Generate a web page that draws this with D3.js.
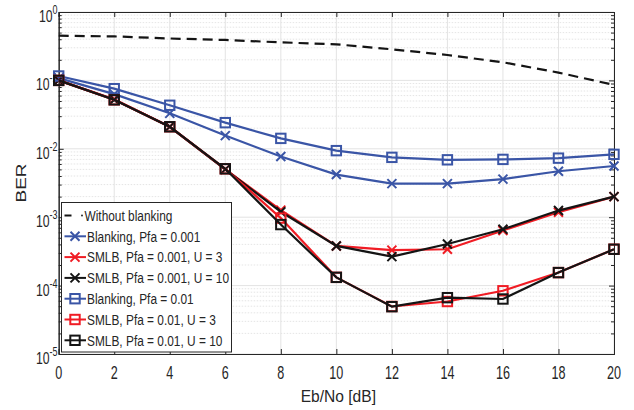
<!DOCTYPE html>
<html><head><meta charset="utf-8">
<script src="https://cdn.jsdelivr.net/npm/d3@7"></script>
<style>body{margin:0;background:#fff}svg{display:block}text{font-family:"Liberation Sans",Arial,sans-serif;fill:#262626}</style>
</head><body><svg id="c" width="634" height="410"></svg>
<script>
const ebno = [0,2,4,6,8,10,12,14,16,18,20];
const withoutBlanking = [0.45,0.44,0.41,0.39,0.36,0.337,0.285,0.235,0.184,0.13,0.086];
const blank001 = [0.108,0.063,0.033,0.0156,0.0077,0.0042,0.0031,0.0031,0.0036,0.0047,0.0056];
const smlb001U3 = [0.1,0.053,0.021,0.005,0.00127,0.00038,0.00033,0.00034,0.00064,0.00118,0.002];
const smlb001U10 = [0.1,0.052,0.021,0.005,0.0012,0.00038,0.000265,0.000405,0.000665,0.00125,0.002];
const blank01 = [0.116,0.0757,0.0433,0.0241,0.0142,0.0094,0.0075,0.0069,0.0070,0.0073,0.0083];
const smlb01U3 = [0.1,0.052,0.021,0.0051,0.00097,0.000132,0.0000495,0.0000585,0.000084,0.000155,0.00034];
const smlb01U10 = [0.1,0.052,0.021,0.0051,0.00078,0.000132,0.0000492,0.0000666,0.0000637,0.000155,0.00034];
const xTicks = [0,2,4,6,8,10,12,14,16,18,20];
const yExps = [0,-1,-2,-3,-4,-5];
const legendLabels = ["Without blanking","Blanking, Pfa = 0.001","SMLB, Pfa = 0.001, U = 3","SMLB, Pfa = 0.001, U = 10","Blanking, Pfa = 0.01","SMLB, Pfa = 0.01, U = 3","SMLB, Pfa = 0.01, U = 10"];

const BLUE="#3a55a6", RED="#f01c24", BLACK="#141414";
const series = [
  {v:withoutBlanking, c:BLACK, m:null, dash:"10,6"},
  {v:blank001, c:BLUE, m:"x"},
  {v:smlb001U3, c:RED, m:"x"},
  {v:smlb001U10, c:BLACK, m:"x"},
  {v:blank01, c:BLUE, m:"s"},
  {v:smlb01U3, c:RED, m:"s"},
  {v:smlb01U10, c:BLACK, m:"s"}
];

const svg = d3.select("#c");
const L=58.7, R=614, T=12, B=354;
const x = d3.scaleLinear().domain([0,20]).range([L,R]);
const y = d3.scaleLog().domain([1e-5,1]).range([B,T]);

function ntext(parent, px, py, size, anchor, sx, rot){
  return parent.append("text")
    .attr("transform",`translate(${px},${py}) scale(${sx},1)${rot?` rotate(${rot})`:""}`)
    .attr("text-anchor",anchor||"start").attr("font-size",size);
}

const g = svg.append("g");
const minor=[];
for(let e=-5;e<0;e++) for(let k=2;k<=9;k++) minor.push(k*Math.pow(10,e));
g.selectAll(".mg").data(minor).enter().append("line")
 .attr("x1",L).attr("x2",R).attr("y1",d=>y(d)).attr("y2",d=>y(d))
 .attr("stroke","#dedede").attr("stroke-width",0.8).attr("stroke-dasharray","1.5,1.5");
g.selectAll(".gy").data(yExps).enter().append("line")
 .attr("x1",L).attr("x2",R).attr("y1",d=>y(Math.pow(10,d))).attr("y2",d=>y(Math.pow(10,d)))
 .attr("stroke","#e3e3e3").attr("stroke-width",1);
g.selectAll(".gx").data(xTicks).enter().append("line")
 .attr("y1",T).attr("y2",B).attr("x1",d=>x(d)).attr("x2",d=>x(d))
 .attr("stroke","#e3e3e3").attr("stroke-width",1);

const ax = d3.axisBottom(x).tickValues(xTicks).tickSize(-5).tickFormat("");
const axT = d3.axisTop(x).tickValues(xTicks).tickSize(-5).tickFormat("");
const ay = d3.axisLeft(y).tickValues(yExps.map(e=>Math.pow(10,e))).tickSize(-5).tickFormat("");
const ayR = d3.axisRight(y).tickValues(yExps.map(e=>Math.pow(10,e))).tickSize(-5).tickFormat("");
const aym = d3.axisLeft(y).tickValues(minor).tickSize(-3).tickFormat("");
const aymR = d3.axisRight(y).tickValues(minor).tickSize(-3).tickFormat("");
function st(sel){sel.selectAll("path,line").attr("stroke","#262626").attr("stroke-width",1);}
g.append("g").attr("transform",`translate(0,${B})`).call(ax).call(st);
g.append("g").attr("transform",`translate(0,${T})`).call(axT).call(st);
g.append("g").attr("transform",`translate(${L},0)`).call(ay).call(st);
g.append("g").attr("transform",`translate(${R},0)`).call(ayR).call(st);
g.append("g").attr("transform",`translate(${L},0)`).call(aym).call(st);
g.append("g").attr("transform",`translate(${R},0)`).call(aymR).call(st);

xTicks.forEach(d=>ntext(g,x(d),379.3,18,"middle",0.7).text(d));
yExps.forEach(e=>{
  const t=ntext(g,57.5,y(Math.pow(10,e))+10,17,"end",0.72);
  t.append("tspan").text("10");
  t.append("tspan").attr("font-size",12.5).attr("dy",-8).text(e===0?"0":"-"+(-e));
});
ntext(g,(L+R)/2+2,402,17.3,"middle",0.9).text("Eb/No [dB]");
ntext(g,25.5,183,19,"middle",0.78,-90).text("BER");

const line = d3.line().x((d,i)=>x(ebno[i])).y(d=>y(d));
function marker(sel, m, c, cx, cy){
  if(m==="x"){
    const s=4.5;
    sel.append("path").attr("d",`M${cx-s},${cy-s}L${cx+s},${cy+s}M${cx-s},${cy+s}L${cx+s},${cy-s}`)
     .attr("stroke",c).attr("stroke-width",2).attr("fill","none");
  } else if(m==="s"){
    const s=4.7;
    sel.append("rect").attr("x",cx-s).attr("y",cy-s).attr("width",2*s).attr("height",2*s)
     .attr("stroke",c).attr("stroke-width",2).attr("fill","none");
  }
}
series.forEach(s=>{
  const sg=g.append("g");
  sg.append("path").datum(s.v).attr("d",line).attr("fill","none").attr("stroke",s.c)
    .attr("stroke-width",2.2).attr("stroke-dasharray",s.dash||null);
  if(s.m) s.v.forEach((v,i)=>marker(sg,s.m,s.c,x(ebno[i]),y(v)));
});

const lg = g.append("g");
lg.append("rect").attr("x",61.5).attr("y",202.5).attr("width",170).attr("height",149.5)
  .attr("fill","#fff").attr("stroke","#262626").attr("stroke-width",1);
legendLabels.forEach((lab,i)=>{
  const cy=215.5+i*20.8, s=series[i];
  if(s.dash){
    lg.append("line").attr("x1",64.5).attr("x2",71.5).attr("y1",cy).attr("y2",cy).attr("stroke",s.c).attr("stroke-width",2);
    lg.append("circle").attr("cx",82).attr("cy",cy).attr("r",0.9).attr("fill",s.c);
  } else {
    lg.append("line").attr("x1",64.5).attr("x2",86).attr("y1",cy).attr("y2",cy).attr("stroke",s.c).attr("stroke-width",2);
    marker(lg,s.m,s.c,75,cy);
  }
  ntext(lg,s.dash?84.5:87,cy+5.3,14.5,"start",0.82).text(lab);
});
</script></body></html>
